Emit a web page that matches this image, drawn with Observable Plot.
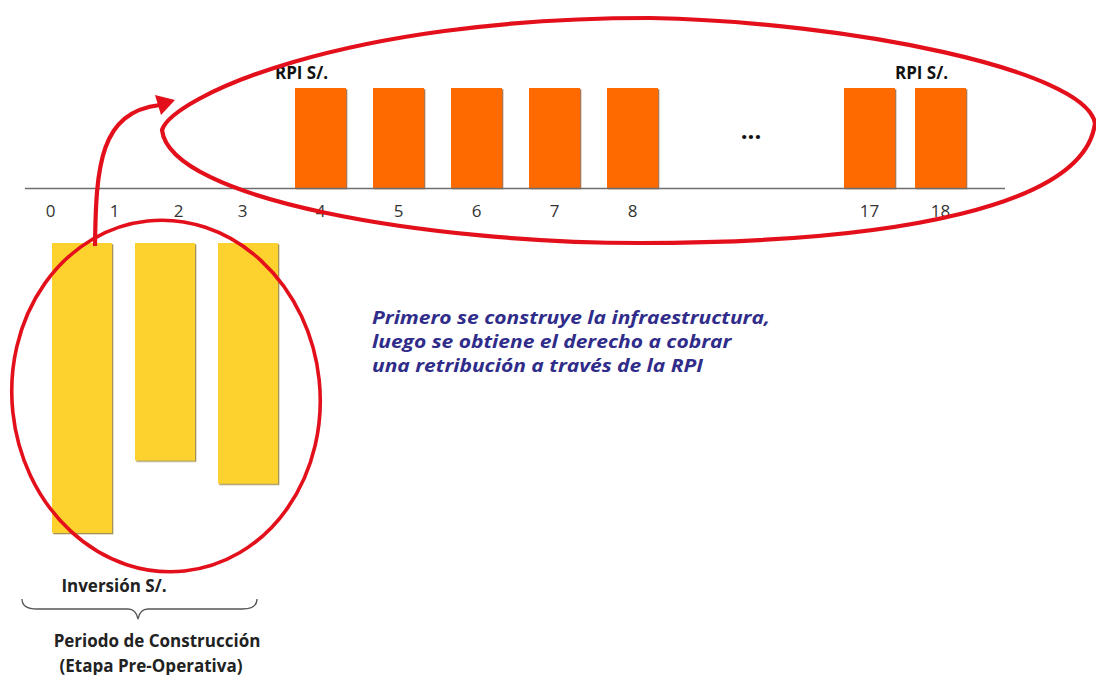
<!DOCTYPE html>
<html>
<head>
<meta charset="utf-8">
<script src="https://cdn.jsdelivr.net/npm/d3@7"></script>
<script src="https://cdn.jsdelivr.net/npm/@observablehq/plot@0.6"></script>
<style>
  html, body { margin: 0; padding: 0; background: #ffffff; }
  #wrap { position: relative; width: 1096px; height: 675px; overflow: hidden; font-family: "Open Sans", Lato, sans-serif; }
  #wrap > svg { position: absolute; left: 0; top: 0; }
</style>
</head>
<body>
<div id="wrap"></div>
<script>
// ---------- data ----------
const tickPeriods = [0, 1, 2, 3, 4, 5, 6, 7, 8, 17, 18];
const tickLabels  = ["0", "1", "2", "3", "4", "5", "6", "7", "8", "17", "18"];
const rpiPeriods  = [4, 5, 6, 7, 8, 17, 18];
const rpiValues   = [100, 100, 100, 100, 100, 100, 100];
const rpiLabelPeriods = [4, 18];
const rpiLabelText = "RPI S/.";
const investPeriods = ["1", "2", "3"];
const investValues  = [100, 75, 83];
const gapLabel = "...";
const gapPeriod = 12.5;
const gapValue = 50;
const investLabel = "Inversión S/.";
const periodLabel = ["Periodo de Construcción", "(Etapa Pre-Operativa)"];
const note = ["Primero se construye la infraestructura,", "luego se obtiene el derecho a cobrar", "una retribución a través de la RPI"];

const ORANGE = "#ff6a00";
const YELLOW = "#fdd22f";
const RED = "#e3101b";
const FONT = "'Open Sans', Lato, sans-serif";

const ticks = tickPeriods.map((p, i) => ({period: p, label: tickLabels[i]}));
const rpi = rpiPeriods.map((p, i) => ({period: p, value: rpiValues[i]}));
const rpiLabels = rpi.filter(d => rpiLabelPeriods.includes(d.period));
const invest = investPeriods.map((p, i) => ({period: p, value: investValues[i]}));

const W = 1096, H = 675;
const wrap = document.getElementById("wrap");

// ---------- main plot: time axis + RPI bars ----------
const main = Plot.plot({
  width: W, height: H,
  marginLeft: 25, marginRight: 91, marginTop: 0, marginBottom: 0,
  style: {background: "transparent", overflow: "visible", fontFamily: FONT},
  x: {type: "linear", domain: [0, 3, 8, 17, 18], range: [50, 242, 632, 869, 940], axis: null},
  y: {domain: [0, 100], range: [188, 88], axis: null},
  marks: [
    Plot.ruleX(rpi, {x: "period", y1: 0, y2: "value", stroke: ORANGE, strokeWidth: 51}),
    Plot.ruleY([0], {stroke: "#6e6e6e", strokeWidth: 1.6}),
    Plot.text(ticks, {x: "period", y: 0, text: "label", dy: 23, fontSize: 17, fill: "#333"}),
    Plot.text(rpiLabels, {x: "period", y: "value", text: () => rpiLabelText, dy: -15, dx: -19, fontSize: 17, fontWeight: "bold", fill: "#111"}),
    Plot.text([gapLabel], {x: () => gapPeriod, y: () => gapValue, text: d => d, fontSize: 24, fontWeight: "bold", fill: "#111", dy: -7})
  ]
});
wrap.appendChild(main);

// ---------- investment plot: construction-period bars ----------
const inv = Plot.plot({
  width: W, height: H,
  marginLeft: 0, marginRight: 0, marginTop: 0, marginBottom: 0,
  style: {background: "transparent", overflow: "visible"},
  x: {type: "band", domain: investPeriods, range: [52, 278], paddingInner: 0.28, paddingOuter: 0, axis: null},
  y: {domain: [0, 100], range: [243, 533], axis: null},
  marks: [
    Plot.barY(invest, {x: "period", y: "value", fill: YELLOW})
  ]
});
wrap.appendChild(inv);

// drop shadows on bars
function addShadow(svg, id, color) {
  const ns = "http://www.w3.org/2000/svg";
  const defs = document.createElementNS(ns, "defs");
  defs.innerHTML = `<filter id="${id}" x="-10%" y="-10%" width="130%" height="130%"><feDropShadow dx="1.3" dy="1.3" stdDeviation="0.7" flood-color="${color}" flood-opacity="0.7"/></filter>`;
  svg.insertBefore(defs, svg.firstChild);
}
addShadow(main, "shO", "#8a3a00");
addShadow(inv, "shY", "#7a6410");
main.querySelectorAll("g[aria-label='rule']").forEach(g => {
  if ((g.getAttribute("stroke") || "").toLowerCase() === ORANGE) g.setAttribute("filter", "url(#shO)");
});
inv.querySelectorAll("g[aria-label='bar']").forEach(g => g.setAttribute("filter", "url(#shY)"));

// ---------- annotation overlay ----------
const ov = d3.select(wrap).append("svg")
  .attr("width", W).attr("height", H)
  .style("font-family", FONT);

// big ellipse around RPI bars
ov.append("path")
  .attr("d", "M162,130 C172,98 340,18 650,18 C850,22 1085,70 1095,123 C1085,205 900,243 640,243 C430,243 170,200 162,130 Z")
  .attr("fill", "none").attr("stroke", RED).attr("stroke-width", 4.2);

// circle around investment bars
ov.append("ellipse")
  .attr("cx", 166).attr("cy", 396).attr("rx", 154).attr("ry", 176)
  .attr("transform", "rotate(-6,166,396)")
  .attr("fill", "none").attr("stroke", RED).attr("stroke-width", 3.6);

// arrow
ov.append("path")
  .attr("d", "M95,246 C96,165 100,112 160,105")
  .attr("fill", "none").attr("stroke", RED).attr("stroke-width", 4.2);
ov.append("polygon")
  .attr("points", "175,100 155,95 161,115")
  .attr("fill", RED);

// brace
ov.append("path")
  .attr("d", "M22,599 Q22,609 37,609 L128,609 Q136,609 138,619 Q140,609 148,609 L242,609 Q257,609 257,599")
  .attr("fill", "none").attr("stroke", "#555").attr("stroke-width", 1.3);

// texts
ov.append("text").attr("x", 114).attr("y", 585).attr("text-anchor", "middle").attr("dominant-baseline", "central")
  .attr("font-size", 17).attr("font-weight", "bold").attr("fill", "#222").text(investLabel);
const periodX = [157, 151];
periodLabel.forEach((t, i) => {
  ov.append("text").attr("x", periodX[i]).attr("y", 640 + i * 25).attr("text-anchor", "middle").attr("dominant-baseline", "central")
    .attr("font-size", 17).attr("font-weight", "bold").attr("fill", "#222").text(t);
});
// note: narrow Calibri-like proportions approximated by a horizontal stretch
const noteG = ov.append("g").attr("transform", "translate(372,0) scale(1.2,1)");
note.forEach((t, i) => {
  noteG.append("text").attr("x", 0).attr("y", 317 + i * 24).attr("dominant-baseline", "central")
    .attr("font-size", 17.5).attr("font-weight", "bold").attr("font-style", "italic").attr("fill", "#302c8a").text(t);
});
</script>
</body>
</html>
